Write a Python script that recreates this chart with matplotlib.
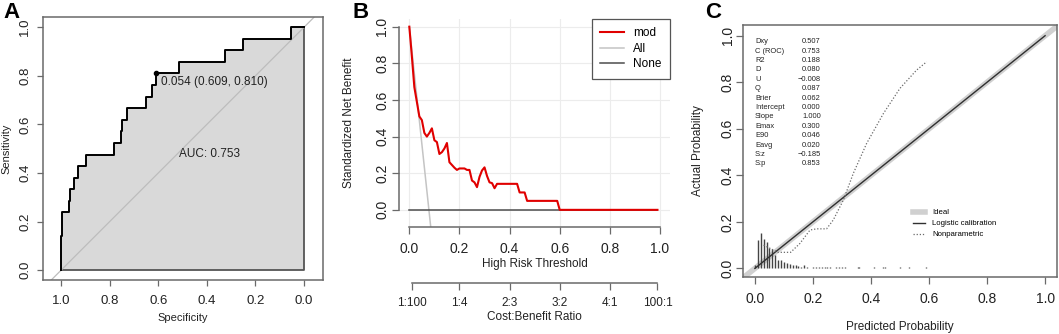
import numpy as np
import matplotlib.pyplot as plt
from matplotlib.lines import Line2D

plt.rcParams['font.family'] = ['Liberation Sans', 'DejaVu Sans']

# ---- A: ROC curve (specificity reversed on x)
roc_spec = [1.0, 1.0, 0.997, 0.968, 0.962, 0.945, 0.932, 0.897, 0.782, 0.752,
            0.748, 0.727, 0.652, 0.626, 0.609, 0.516, 0.327, 0.253, 0.055, 0.0]
roc_sens = [0.0, 0.143, 0.238, 0.286, 0.333, 0.381, 0.429, 0.476, 0.524, 0.571,
            0.619, 0.667, 0.714, 0.762, 0.810, 0.857, 0.905, 0.952, 1.0, 1.0]
best_spec, best_sens = 0.609, 0.810
best_label = '0.054 (0.609, 0.810)'
auc_label = 'AUC: 0.753'

# ---- B: decision curve
dca_thr = [0.00, 0.01, 0.02, 0.03, 0.04, 0.05, 0.06, 0.07, 0.08, 0.09, 0.10,
           0.11, 0.12, 0.13, 0.14, 0.15, 0.16, 0.17, 0.18, 0.19, 0.20, 0.22,
           0.23, 0.24, 0.25, 0.26, 0.27, 0.28, 0.29, 0.30, 0.31, 0.32, 0.33,
           0.34, 0.35, 0.43, 0.44, 0.46, 0.47, 0.59, 0.60, 0.99]
dca_mod = [1.0, 0.84, 0.67, 0.59, 0.51, 0.49, 0.42, 0.40, 0.42, 0.445, 0.38,
           0.37, 0.305, 0.315, 0.335, 0.365, 0.26, 0.245, 0.23, 0.218, 0.226, 0.226,
           0.218, 0.218, 0.16, 0.15, 0.124, 0.18, 0.215, 0.232, 0.185, 0.15, 0.146,
           0.118, 0.142, 0.142, 0.095, 0.095, 0.049, 0.049, 0.0, 0.0]
all_thr = [0.0, 0.1]
all_snb = [1.0, -0.28]
none_thr = [0.0, 0.99]
none_snb = [0.0, 0.0]
cb_pos = [0.01, 0.2, 0.4, 0.6, 0.8, 0.99]
cb_labels = ['1:100', '1:4', '2:3', '3:2', '4:1', '100:1']

# ---- C: calibration
np_pred = [0.03, 0.046, 0.08, 0.123, 0.155, 0.19, 0.213, 0.247, 0.27, 0.305,
           0.339, 0.385, 0.443, 0.5, 0.557, 0.592]
np_obs = [0.10, 0.09, 0.069, 0.069, 0.107, 0.165, 0.170, 0.170, 0.208, 0.294,
          0.408, 0.537, 0.666, 0.774, 0.852, 0.888]
spike_x = [0.00, 0.01, 0.02, 0.03, 0.04, 0.05, 0.06, 0.07, 0.08, 0.09, 0.10,
           0.11, 0.12, 0.13, 0.14, 0.15, 0.16, 0.17, 0.18,
           0.20, 0.21, 0.22, 0.23, 0.24, 0.25, 0.26, 0.28, 0.29, 0.30, 0.31,
           0.355, 0.36, 0.41, 0.44, 0.45, 0.50, 0.53, 0.59]
spike_h = [0.014, 0.122, 0.150, 0.125, 0.115, 0.086, 0.083, 0.057, 0.036, 0.036, 0.026,
           0.024, 0.017, 0.014, 0.016, 0.011, 0.008, 0.014, 0.006,
           0.008, 0.007, 0.007, 0.007, 0.007, 0.007, 0.008, 0.007, 0.008, 0.007, 0.008,
           0.008, 0.008, 0.007, 0.007, 0.007, 0.007, 0.007, 0.007]
stat_names = ['Dxy', 'C (ROC)', 'R2', 'D', 'U', 'Q', 'Brier', 'Intercept',
              'Slope', 'Emax', 'E90', 'Eavg', 'S:z', 'S:p']
stat_vals = ['0.507', '0.753', '0.188', '0.080', '\u22120.008', '0.087', '0.062',
             '0.000', '1.000', '0.300', '0.046', '0.020', '\u22120.185', '0.853']

W, H = 1059, 334
fig = plt.figure(figsize=(W / 100, H / 100), dpi=100)
ink = '#222222'
edge = '#6a6a6a'


def box(l, t, r, b):
    return [l / W, (H - b) / H, (r - l) / W, (b - t) / H]


def place(ax, xl, yl):
    ax.xaxis.set_label_coords(*xl)
    ax.yaxis.set_label_coords(*yl)
    ax.xaxis.label.set_va('center')
    ax.yaxis.label.set_va('center')


# ================= A
ax = fig.add_axes(box(43, 17, 323, 280))
ax.fill_between(roc_spec, roc_sens, 0, step='post', color='#d9d9d9', lw=0)
ax.plot([1.0, 0.0, 0.0], [0.0, 0.0, 1.0], color='#555555', lw=1.3)
ax.axline((1, 0), (0, 1), color='#bdbdbd', lw=0.9)
ax.step(roc_spec, roc_sens, where='post', color='black', lw=1.4)
ax.plot(best_spec, best_sens, 'o', color='black', ms=3)
ax.text(best_spec - 0.02, best_sens - 0.01, best_label, fontsize=8.5, color=ink,
        ha='left', va='top')
ax.text(0.39, 0.48, auc_label, fontsize=8.5, color=ink, ha='center', va='center')
ax.set_xlim(1.074, -0.078)
ax.set_ylim(-0.04, 1.042)
ticks = [0, 0.2, 0.4, 0.6, 0.8, 1.0]
ax.set_xticks(ticks)
ax.set_yticks(ticks)
ax.set_xticklabels(['%.1f' % t for t in ticks])
ax.set_yticklabels(['%.1f' % t for t in ticks], rotation=90, va='center')
ax.tick_params(colors=edge, labelcolor=ink, labelsize=9.5, length=4.5, width=0.9)
ax.tick_params(axis='x', pad=6)
ax.tick_params(axis='y', pad=4)
for s in ax.spines.values():
    s.set_color(edge)
    s.set_linewidth(1.1)
ax.set_xlabel('Specificity', fontsize=8, color=ink)
ax.set_ylabel('Sensitivity', fontsize=8, color=ink)
place(ax, (0.5, -0.1445), (-0.132, 0.5))

# ================= B
ax = fig.add_axes(box(399.3, 19, 670, 226.7))
ax.set_xlim(-0.04, 1.04)
ax.set_ylim(-0.092, 1.042)
ax.set_xticks(ticks)
ax.set_yticks(ticks)
ax.grid(True, color='#ececec', lw=0.8)
ax.set_axisbelow(True)
ax.plot(all_thr, all_snb, color='#c4c4c4', lw=1.1, label='All')
ax.plot(none_thr, none_snb, color='#4d4d4d', lw=1.1, label='None')
ax.plot(dca_thr, dca_mod, color='#e00000', lw=1.5, label='mod')
h, lab = ax.get_legend_handles_labels()
order = [2, 0, 1]
leg = ax.legend([h[i] for i in order], [lab[i] for i in order], loc='upper right',
                borderaxespad=0, fancybox=False, framealpha=1, edgecolor='#555555',
                fontsize=8.5, handlelength=2.0, handletextpad=0.8, labelspacing=0.3,
                borderpad=0.7)
leg.get_frame().set_linewidth(0.9)
ax.set_xticklabels(['%.1f' % t for t in ticks])
ax.set_yticklabels(['%.1f' % t for t in ticks], rotation=90, va='center')
ax.tick_params(colors=edge, labelcolor=ink, labelsize=10, length=4.8, width=0.9)
ax.tick_params(axis='x', pad=6)
ax.tick_params(axis='y', pad=2.5)
for k in ['top', 'right']:
    ax.spines[k].set_visible(False)
for k in ['left', 'bottom']:
    ax.spines[k].set_color(edge)
    ax.spines[k].set_linewidth(1.1)
    ax.spines[k].set_bounds(0, 1)
ax.set_xlabel('High Risk Threshold', fontsize=8.5, color=ink)
ax.set_ylabel('Standardized Net Benefit', fontsize=8.5, color=ink)
place(ax, (0.5, -0.18), (-0.184, 0.5))
sec = ax.secondary_xaxis(-0.271)
sec.set_xticks(cb_pos)
sec.set_xticklabels(cb_labels)
sec.tick_params(colors=edge, labelcolor=ink, labelsize=8.5, length=4.8, width=0.9, pad=5.5)
sec.spines['bottom'].set_bounds(0.01, 0.99)
sec.spines['bottom'].set_color(edge)
sec.spines['bottom'].set_linewidth(1.1)
ax.text(0.5, -0.436, 'Cost:Benefit Ratio', transform=ax.transAxes, fontsize=8.5,
        color=ink, ha='center', va='center')

# ================= C
ax = fig.add_axes(box(743, 25, 1057, 277))
ax.set_xlim(-0.041, 1.041)
ax.set_ylim(-0.037, 1.046)
ax.axline((0, 0), (1, 1), color='#d0d0d0', lw=4, label='Ideal', zorder=1)
ax.plot([0.0, 1.0], [0.0, 1.0], color='#303030', lw=1.0, label='Logistic calibration', zorder=3)
ax.plot(np_pred, np_obs, color='#6a6a6a', lw=0.9, ls=(0, (1, 1.5)), label='Nonparametric', zorder=3)
ax.vlines(spike_x, 0, spike_h, color='#444444', lw=1.0, zorder=2)
for i, (nm, vl) in enumerate(zip(stat_names, stat_vals)):
    yy = 0.974 - i * 0.0404
    ax.text(0.0, yy, nm, fontsize=5.4, color=ink, ha='left', va='center')
    ax.text(0.227, yy, vl, fontsize=5.4, color=ink, ha='right', va='center')
ax.legend(loc='upper left', bbox_to_anchor=(0.54, 0.27), frameon=False, fontsize=5.6,
          handlelength=1.6, handletextpad=0.9, labelspacing=0.45, borderpad=0,
          borderaxespad=0)
ax.set_xticks(ticks)
ax.set_yticks(ticks)
ax.set_xticklabels(['%.1f' % t for t in ticks])
ax.set_yticklabels(['%.1f' % t for t in ticks], rotation=90, va='center')
ax.tick_params(colors=edge, labelcolor=ink, labelsize=10, length=5, width=0.9)
ax.tick_params(axis='x', pad=5.5)
ax.tick_params(axis='y', pad=0.8)
for s in ax.spines.values():
    s.set_color(edge)
    s.set_linewidth(1.1)
ax.set_xlabel('Predicted Probability', fontsize=8.5, color=ink)
ax.set_ylabel('Actual Probability', fontsize=8.5, color=ink)
place(ax, (0.5, -0.198), (-0.143, 0.5))

# panel letters
for x0, letter in [(3, 'A'), (352, 'B'), (705, 'C')]:
    fig.text(x0 / W, 1 - 18 / H, letter, fontsize=16, fontweight='bold', color='black',
             ha='left', va='baseline')

fig.savefig('out.png', dpi=100)
